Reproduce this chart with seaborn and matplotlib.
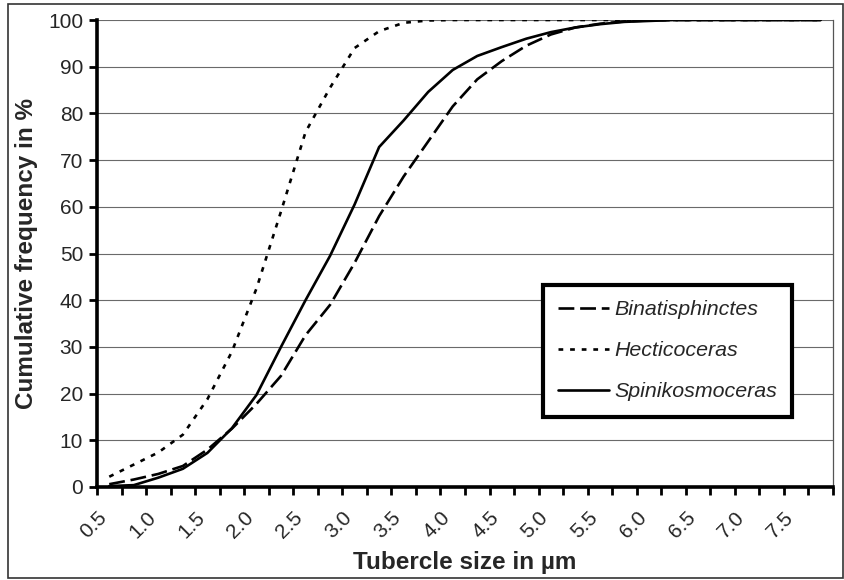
import matplotlib
matplotlib.use("Agg")
import matplotlib.pyplot as plt
from matplotlib.patches import Rectangle
import numpy as np
import pandas as pd
import seaborn as sns

# Tubercle size classes (bin centres, in µm)
sizes = [0.625, 0.875, 1.125, 1.375, 1.625, 1.875, 2.125, 2.375, 2.625, 2.875,
         3.125, 3.375, 3.625, 3.875, 4.125, 4.375, 4.625, 4.875, 5.125, 5.375,
         5.625, 5.875, 6.125, 6.375, 6.625, 6.875, 7.125, 7.375, 7.625, 7.875]

# Cumulative frequency (%) per genus
binatisphinctes = [0.6, 1.6, 2.8, 4.5, 8.0, 12.5, 17.8, 23.8, 32.5, 39.0,
                   48.0, 58.0, 66.5, 74.0, 81.5, 87.3, 91.2, 94.5, 96.9, 98.4,
                   99.2, 99.7, 99.9, 100, 100, 100, 100, 100, 100, 100]
hecticoceras = [2.2, 4.8, 7.4, 11.2, 18.8, 29.0, 42.5, 59.0, 76.0, 85.5,
                94.0, 97.6, 99.4, 99.9, 100, 100, 100, 100, 100, 100,
                100, 100, 100, 100, 100, 100, 100, 100, 100, 100]
spinikosmoceras = [0.2, 0.4, 2.0, 3.9, 7.3, 12.6, 19.7, 30.0, 40.0, 49.5,
                   60.5, 72.8, 78.5, 84.6, 89.3, 92.3, 94.2, 96.0, 97.4, 98.4,
                   99.1, 99.6, 99.8, 100, 100, 100, 100, 100, 100, 100]

genera = ["Binatisphinctes", "Hecticoceras", "Spinikosmoceras"]
series = [binatisphinctes, hecticoceras, spinikosmoceras]

df = pd.concat(
    [pd.DataFrame({"size": sizes, "cum": vals, "genus": g}) for g, vals in zip(genera, series)],
    ignore_index=True,
)

sns.set_style("white")
plt.rcParams["font.family"] = ["Liberation Sans", "DejaVu Sans"]

fig = plt.figure(figsize=(8.45, 5.8), dpi=100)
ax = fig.add_axes([97 / 845, 1 - 487 / 580, 736 / 845, 467 / 580])

sns.lineplot(
    data=df,
    x="size",
    y="cum",
    hue="genus",
    style="genus",
    palette=["black"] * 3,
    dashes={"Binatisphinctes": (6, 2.2), "Hecticoceras": (1.8, 2.6), "Spinikosmoceras": ""},
    linewidth=1.9,
    ax=ax,
)

ax.set_xlim(0.5, 8.0)
ax.set_ylim(0, 100)

# y axis
ax.set_yticks(np.arange(0, 101, 10))
ax.yaxis.grid(True, color="#6a6a6a", linewidth=0.8)
ax.xaxis.grid(False)
ax.set_axisbelow(True)

# x axis: a tick every 0.25, a label every 0.5
xt = np.arange(0.5, 8.01, 0.25)
xl = [f"{v:.1f}" if (i % 2 == 0 and v <= 7.5) else "" for i, v in enumerate(xt)]
ax.set_xticks(xt)
ax.set_xticklabels(xl, rotation=45, ha="right", rotation_mode="anchor")

ax.tick_params(axis="both", which="major", direction="out", length=6, width=2,
               color="black", labelsize=15, bottom=True, left=True)
ax.tick_params(axis="y", pad=4)
ax.tick_params(axis="x", pad=9)

for side in ["left", "bottom"]:
    ax.spines[side].set_linewidth(2.6)
    ax.spines[side].set_color("black")
ax.spines["top"].set_visible(False)
ax.spines["right"].set_linewidth(0.9)
ax.spines["right"].set_color("#555555")

ax.set_xlabel("Tubercle size in µm", fontsize=17.5, fontweight="bold")
ax.set_ylabel("Cumulative frequency in %", fontsize=17.5, fontweight="bold")
ax.xaxis.set_label_coords(0.5, -0.161)
ax.xaxis.label.set_va("center")
ax.yaxis.set_label_coords(-0.096, 0.5)
ax.yaxis.label.set_va("center")

handles, labels = ax.get_legend_handles_labels()
leg = ax.legend(
    handles,
    labels,
    loc="upper left",
    bbox_to_anchor=(0.606, 0.4325),
    borderaxespad=0,
    prop={"style": "italic", "size": 15.4},
    handlelength=2.35,
    handletextpad=0.25,
    labelspacing=1.03,
    borderpad=0.72,
    frameon=True,
    fancybox=False,
    framealpha=1,
)
leg.get_frame().set_edgecolor("black")
leg.get_frame().set_linewidth(3)

# outer chart border
fig.patches.append(
    Rectangle((8 / 845, 2 / 580), 835 / 845, 574 / 580, transform=fig.transFigure,
              fill=False, edgecolor="#333333", linewidth=1.2)
)

plt.savefig("out.png", dpi=100)
